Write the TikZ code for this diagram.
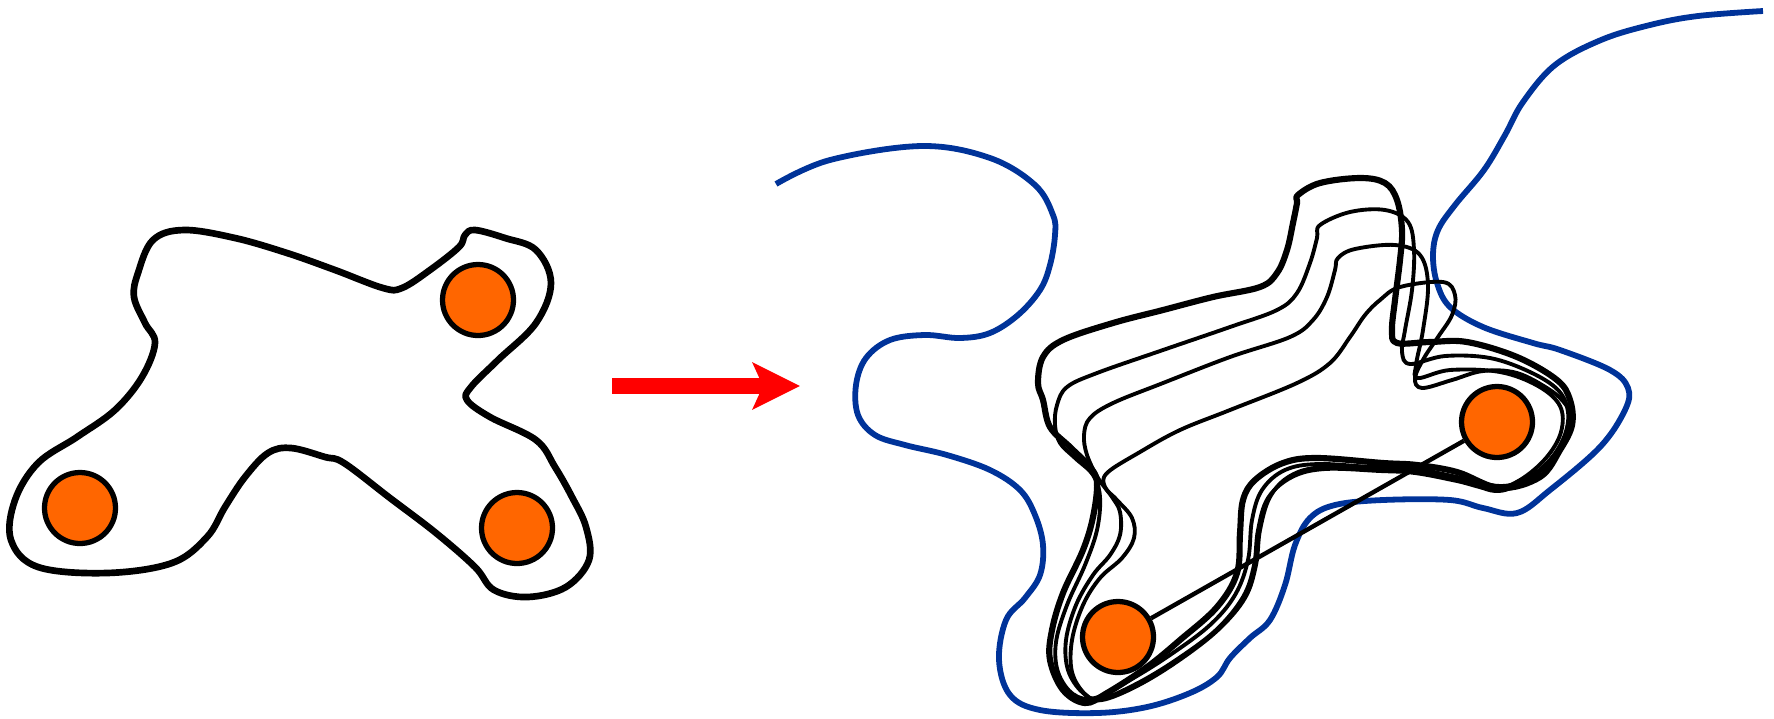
\documentclass[tikz,border=0pt]{standalone}
\usepackage{tikz}
\usetikzlibrary{arrows.meta}

\definecolor{atomorange}{RGB}{255,102,0}
\definecolor{wallblue}{RGB}{0,51,153}

\begin{document}
\begin{tikzpicture}[
    x=0.02cm, y=-0.02cm,
    outline/.style={draw=black, line width=3.8pt, line join=round},
    orbitmain/.style={draw=black, line width=3.5pt, line join=round},
    orbit/.style={draw=black, line width=2.2pt, line join=round},
    wall/.style={draw=wallblue, line width=3.3pt},
    atom/.style={circle, draw=black, fill=atomorange, line width=3pt,
                 minimum size=1.42cm, inner sep=0pt},
    bigarrow/.style={draw=red, line width=0.32cm,
                     -{Stealth[length=0.94cm, width=0.92cm, inset=0.2cm]}}
  ]
    \useasboundingbox (0,0) rectangle (1774,718);

    %--- Left: molecule in its cavity ---
    \node[atom] (a1) at (478,300) {};
    \node[atom] (a2) at (80,508)  {};
    \node[atom] (a3) at (517,528) {};
    \draw[outline] plot[smooth cycle, tension=0.6] coordinates {
      (184,230) (235,238) (287,253) (335,270) (383,288) (402,288) (430,270)
      (459,247) (465,235) (475,230) (505,238) (536,250) (551,283) (536,323)
      (498,360) (471,387) (467,400) (490,417) (536,440) (555,467) (572,497)
      (586,527) (589,560) (566,587) (528,597) (494,590) (475,567) (436,533)
      (390,498) (344,463) (325,457) (291,448) (268,453) (245,477) (225,507)
      (207,537) (172,563) (107,573) (38,567) (11,540) (15,500) (38,463)
      (77,437) (115,410) (142,377) (155,343) (145,323) (134,297) (138,273)
      (153,240)};

    %--- Arrow ---
    \coordinate (from) at (612,386);
    \coordinate (to)   at (800,386);
    \draw[bigarrow] (from) -- (to);

    %--- Right: solvent boundary ---
    \draw[wall] plot[smooth, tension=0.6] coordinates {
      (776,184) (830,160) (922,146) (990,158) (1035,185) (1053,215) (1055,235)
      (1050,265) (1040,290) (1018,315) (990,333) (960,338) (925,335) (890,340)
      (866,358) (856,385) (858,415) (875,435) (905,445) (947,455) (990,470)
      (1020,490) (1035,515) (1043,545) (1040,575) (1025,598) (1006,620)
      (999,660) (1010,695) (1040,710) (1097,713) (1147,707) (1190,693)
      (1217,677) (1230,658) (1250,638) (1270,620) (1285,585) (1295,545)
      (1310,518) (1335,505) (1383,500) (1450,500) (1483,508) (1517,513)
      (1550,490) (1600,447) (1625,410) (1628,388) (1610,370) (1560,350)
      (1533,343) (1483,327) (1450,307) (1437,283) (1433,255) (1438,230)
      (1455,205) (1484,170) (1505,135) (1523,102) (1555,65) (1601,40)
      (1650,25) (1698,16) (1763,11)};

    %--- Right: two atoms and their bond ---
    \node[atom] (b1) at (1118,637) {};
    \node[atom] (b2) at (1497,422) {};
    \draw[orbit, line width=2.5pt] (b1) -- (b2);

    %--- Right: cavity snapshots ---
    \draw[orbitmain] plot[smooth cycle, tension=0.6] coordinates {
      (1298,195) (1320,183) (1360,178) (1385,183) (1397,200) (1402,230)
      (1400,260) (1395,300) (1392,330) (1397,343) (1430,342) (1467,342)
      (1517,357) (1557,380) (1570,400) (1572,425) (1560,450) (1540,477)
      (1500,488) (1457,472) (1417,465) (1383,463) (1317,458) (1283,463)
      (1255,480) (1243,500) (1240,533) (1237,573) (1217,607) (1180,640)
      (1147,667) (1107,693) (1085,703) (1063,690) (1050,660) (1052,630)
      (1063,593) (1083,550) (1093,517) (1097,483) (1090,467) (1070,447)
      (1050,427) (1043,400) (1038,383) (1043,357) (1063,340) (1113,323)
      (1163,310) (1213,297) (1260,287) (1277,273) (1287,250) (1293,223)
      (1297,203)};
    \draw[orbit] plot[smooth cycle, tension=0.6] coordinates {
      (1320,225) (1350,212) (1385,210) (1408,222) (1414,250) (1412,290)
      (1405,330) (1402,352) (1410,364) (1445,356) (1490,358) (1530,372)
      (1558,390) (1568,412) (1564,437) (1548,462) (1522,482) (1495,491)
      (1457,478) (1415,470) (1380,468) (1320,464) (1285,470) (1262,490)
      (1252,520) (1248,560) (1235,595) (1210,625) (1170,655) (1130,680)
      (1095,698) (1073,694) (1058,672) (1056,642) (1067,605) (1085,565)
      (1097,530) (1100,497) (1093,475) (1075,458) (1060,443) (1055,425)
      (1057,405) (1067,387) (1097,373) (1163,350) (1230,327) (1277,310)
      (1297,293) (1310,263) (1317,238)};
    \draw[orbit] plot[smooth cycle, tension=0.6] coordinates {
      (1338,258) (1355,249) (1395,245) (1420,255) (1428,285) (1423,330)
      (1416,365) (1418,378) (1450,370) (1500,372) (1538,386) (1560,406)
      (1561,432) (1546,458) (1520,480) (1493,489) (1457,481) (1415,473)
      (1380,471) (1325,469) (1292,477) (1268,498) (1258,530) (1254,565)
      (1243,597) (1216,630) (1176,660) (1136,684) (1100,699) (1082,692)
      (1068,670) (1066,640) (1076,605) (1093,575) (1110,555) (1120,535)
      (1120,512) (1112,497) (1098,478) (1087,455) (1084,435) (1090,418)
      (1113,403) (1163,383) (1230,357) (1290,337) (1313,320) (1327,297)
      (1335,270)};
    \draw[orbit] plot[smooth cycle, tension=0.6] coordinates {
      (1380,300) (1400,287) (1443,282) (1455,295) (1452,315) (1438,337)
      (1424,358) (1415,378) (1422,388) (1452,380) (1483,371) (1517,373)
      (1550,390) (1566,405) (1572,420) (1566,440) (1552,460) (1530,478)
      (1500,486) (1457,477) (1417,469) (1383,467) (1322,467) (1290,476)
      (1270,497) (1260,530) (1256,565) (1245,598) (1218,630) (1178,661)
      (1137,686) (1102,700) (1085,694) (1072,672) (1072,640) (1083,605)
      (1100,578) (1122,558) (1134,538) (1132,518) (1117,500) (1105,487)
      (1107,473) (1140,452) (1180,430) (1230,410) (1297,383) (1330,363)
      (1350,337) (1365,315)};
  \end{tikzpicture}
\end{document}
